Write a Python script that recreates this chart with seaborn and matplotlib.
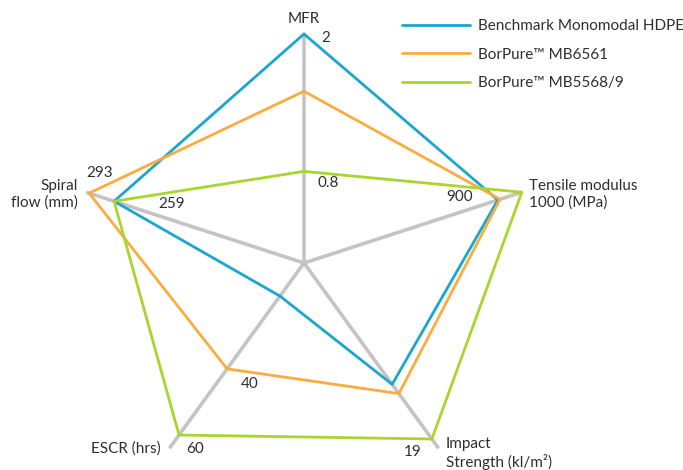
import numpy as np
import pandas as pd
import matplotlib
matplotlib.use("Agg")
import matplotlib.pyplot as plt
import seaborn as sns

# ---------------------------------------------------------------------
# data
# ---------------------------------------------------------------------
AXES = ["MFR", "Tensile modulus", "Impact strength", "ESCR", "Spiral flow"]
AXIS_LO = [0.0, 0.0, 0.0, 8.0, 0.0]
AXIS_HI = [2.0, 1000.0, 20.0, 64.0, 297.0]

SERIES = ["Benchmark Monomodal HDPE", "BorPure™ MB6561", "BorPure™ MB5568/9"]
benchmark = [2.0, 890, 13.1, 18, 259]
mb6561 = [1.5, 900, 14.1, 40, 293]
mb5568 = [0.8, 1000, 19.0, 60, 259]

COLORS = ["#1BA6CE", "#FBAC3E", "#A9D52C"]
GRAY = "#C4C4C4"
TEXT = "#2E2E2E"
FS = 11

sns.set_style("white")
plt.rcParams["font.family"] = ["Lato", "DejaVu Sans"]

angles = np.linspace(0, 2 * np.pi, len(AXES), endpoint=False)

rows = []
for name, vals in zip(SERIES, [benchmark, mb6561, mb5568]):
    for i, v in enumerate(vals + [vals[0]]):
        k = i % len(AXES)
        r = (v - AXIS_LO[k]) / (AXIS_HI[k] - AXIS_LO[k])
        rows.append({"series": name, "theta": angles[k] if i < len(AXES) else 2 * np.pi,
                     "r": r, "order": i})
df = pd.DataFrame(rows)

fig = plt.figure(figsize=(6.83, 4.70), dpi=100)
ax = fig.add_axes([0.1098, -0.0468, 0.6706, 0.9745], projection="polar")
ax.set_theta_zero_location("N")
ax.set_theta_direction(-1)
ax.set_ylim(0, 1)
ax.set_axis_off()

# spokes
for th in angles:
    ax.plot([th, th], [0, 1], color=GRAY, lw=2.6, zorder=1, solid_capstyle="butt", clip_on=False)

sns.lineplot(data=df, x="theta", y="r", hue="series", hue_order=SERIES, palette=COLORS,
             sort=False, estimator=None, units="series", linewidth=2.0, ax=ax, zorder=2)
for ln in ax.get_lines():
    ln.set_clip_on(False)

sns.move_legend(ax, loc="upper left", bbox_to_anchor=(402 / 683, 1 - 19 / 470),
                bbox_transform=fig.transFigure, frameon=False, title=None,
                fontsize=FS, handlelength=4.45, handletextpad=0.52, labelspacing=0.95,
                borderpad=0, borderaxespad=0)
for t in ax.get_legend().get_texts():
    t.set_color(TEXT)
for h in ax.get_legend().legend_handles:
    h.set_linewidth(2.0)


def norm(k, v):
    return (v - AXIS_LO[k]) / (AXIS_HI[k] - AXIS_LO[k])


def label(text, k, r, dx, dy, ha="left", ls=1.3):
    ax.annotate(text, xy=(angles[k], r), xytext=(dx, dy), textcoords="offset pixels",
                ha=ha, va="center", fontsize=FS, color=TEXT, linespacing=ls,
                annotation_clip=False)


# axis names
label("MFR", 0, 1, 0, 15, ha="center")
label("Tensile modulus\n1000 (MPa)", 1, 1, 7, -2, ls=1.25)
label("Impact\nStrength (kl/m²)", 2, 1, 7, -5, ls=1.2)
label("ESCR (hrs)", 3, 1, -9, 0, ha="right")
label("Spiral\nflow (mm)", 4, 1, -8, -2, ha="right", ls=1.15)

# value marks
label("2", 0, norm(0, 2.0), 17, -4)
label("0.8", 0, norm(0, 0.8), 13, -12)
label("900", 1, norm(1, 900), -27, 2, ha="right")
label("19", 2, norm(2, 19), -10, -13, ha="right")
label("60", 3, norm(3, 60), 7, -14)
label("40", 3, norm(3, 40), 14, -15)
label("293", 4, norm(4, 293), 10, 20, ha="center")
label("259", 4, norm(4, 259), 44, -3)

fig.savefig("out.png", dpi=100)
